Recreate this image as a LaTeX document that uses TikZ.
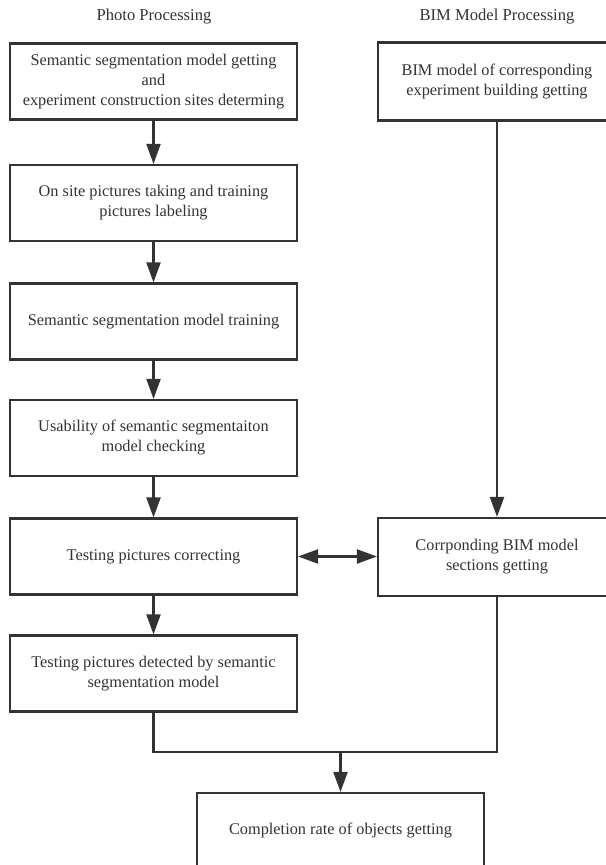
\documentclass[tikz,border=0pt]{standalone}
\usepackage{fontspec}
\setmainfont{Liberation Serif}
\usetikzlibrary{arrows.meta,positioning}
\definecolor{ink}{HTML}{333333}
\tikzset{
  wire/.style      = {line width=1.5pt, draw=ink},
  flow/.style      = {wire, -{Triangle[length=5mm,width=3.5mm]}},
  dflow/.style     = {wire, {Triangle[length=5mm,width=3.5mm]}-{Triangle[length=5mm,width=3.5mm]}},
  procbox/.style   = {draw=ink, line width=1.5pt, fill=white, align=center, text=ink,
                      minimum width=7.175cm, minimum height=1.9cm, inner sep=2pt,
                      font=\fontsize{11.6}{14.2}\selectfont},
  bimbox/.style    = {procbox, minimum width=5.95cm, minimum height=1.95cm},
  colhead/.style   = {text=ink, font=\fontsize{11.8}{14.2}\selectfont},
}

\begin{document}
\begin{tikzpicture}
  \useasboundingbox (0,0) rectangle (15.125,21.625);
  \node[colhead] (headphoto) at (3.85,21.2) {Photo Processing};
  \node[colhead] (headbim) at (12.425,21.2) {BIM Model Processing};

  \node[procbox] (photo1) at (3.8375,19.5875) {Semantic segmentation model getting\\ and\\ experiment construction sites determing};
  \node[procbox] (photo2) at (3.8375,16.55) {On site pictures taking and training\\ pictures labeling};
  \node[procbox] (photo3) at (3.8375,13.5875) {Semantic segmentation model training};
  \node[procbox] (photo4) at (3.8375,10.675) {Usability of semantic segmentaiton\\ model checking};
  \node[procbox] (photo5) at (3.8375,7.7125) {Testing pictures correcting};
  \node[procbox] (photo6) at (3.8375,4.7875) {Testing pictures detected by semantic\\ segmentation model};

  \node[bimbox] (bim1) at (12.425,19.5875) {BIM model of corresponding\\ experiment building getting};
  \node[bimbox] (bim2) at (12.425,7.7) {Corrponding BIM model\\ sections getting};

  \node[procbox] (final) at (8.5125,0.85) {Completion rate of objects getting};

  \draw[flow] (photo1) -- (photo2);
  \draw[flow] (photo2) -- (photo3);
  \draw[flow] (photo3) -- (photo4);
  \draw[flow] (photo4) -- (photo5);
  \draw[flow] (photo5) -- (photo6);
  \draw[flow] (bim1) -- (bim2);
  \draw[dflow] (photo5.east) -- (photo5.east -| bim2.west);

  \coordinate (join) at (final.north |- 0,2.825);
  \draw[wire] (photo6.south) |- (join) -| (bim2.south);
  \draw[flow] (join) -- (final.north);
\end{tikzpicture}
\end{document}
